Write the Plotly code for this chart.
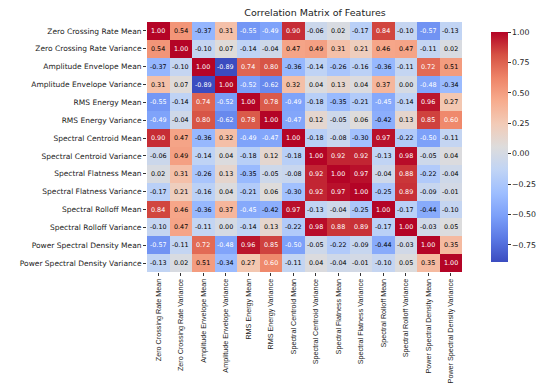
import plotly.graph_objects as go

features = [
    "Zero Crossing Rate Mean", "Zero Crossing Rate Variance",
    "Amplitude Envelope Mean", "Amplitude Envelope Variance",
    "RMS Energy Mean", "RMS Energy Variance",
    "Spectral Centroid Mean", "Spectral Centroid Variance",
    "Spectral Flatness Mean", "Spectral Flatness Variance",
    "Spectral Rolloff Mean", "Spectral Rolloff Variance",
    "Power Spectral Density Mean", "Power Spectral Density Variance",
]

corr = [
    [1.00, 0.54, -0.37, 0.31, -0.55, -0.49, 0.90, -0.06, 0.02, -0.17, 0.84, -0.10, -0.57, -0.13],
    [0.54, 1.00, -0.10, 0.07, -0.14, -0.04, 0.47, 0.49, 0.31, 0.21, 0.46, 0.47, -0.11, 0.02],
    [-0.37, -0.10, 1.00, -0.89, 0.74, 0.80, -0.36, -0.14, -0.26, -0.16, -0.36, -0.11, 0.72, 0.51],
    [0.31, 0.07, -0.89, 1.00, -0.52, -0.62, 0.32, 0.04, 0.13, 0.04, 0.37, 0.00, -0.48, -0.34],
    [-0.55, -0.14, 0.74, -0.52, 1.00, 0.78, -0.49, -0.18, -0.35, -0.21, -0.45, -0.14, 0.96, 0.27],
    [-0.49, -0.04, 0.80, -0.62, 0.78, 1.00, -0.47, 0.12, -0.05, 0.06, -0.42, 0.13, 0.85, 0.60],
    [0.90, 0.47, -0.36, 0.32, -0.49, -0.47, 1.00, -0.18, -0.08, -0.30, 0.97, -0.22, -0.50, -0.11],
    [-0.06, 0.49, -0.14, 0.04, -0.18, 0.12, -0.18, 1.00, 0.92, 0.92, -0.13, 0.98, -0.05, 0.04],
    [0.02, 0.31, -0.26, 0.13, -0.35, -0.05, -0.08, 0.92, 1.00, 0.97, -0.04, 0.88, -0.22, -0.04],
    [-0.17, 0.21, -0.16, 0.04, -0.21, 0.06, -0.30, 0.92, 0.97, 1.00, -0.25, 0.89, -0.09, -0.01],
    [0.84, 0.46, -0.36, 0.37, -0.45, -0.42, 0.97, -0.13, -0.04, -0.25, 1.00, -0.17, -0.44, -0.10],
    [-0.10, 0.47, -0.11, 0.00, -0.14, 0.13, -0.22, 0.98, 0.88, 0.89, -0.17, 1.00, -0.03, 0.05],
    [-0.57, -0.11, 0.72, -0.48, 0.96, 0.85, -0.50, -0.05, -0.22, -0.09, -0.44, -0.03, 1.00, 0.35],
    [-0.13, 0.02, 0.51, -0.34, 0.27, 0.60, -0.11, 0.04, -0.04, -0.01, -0.10, 0.05, 0.35, 1.00],
]

cbar_ticks = [-0.75, -0.50, -0.25, 0.00, 0.25, 0.50, 0.75, 1.00]

coolwarm = [
    (0.0, "#3b4cc0"), (0.1, "#5a78e4"), (0.2, "#7b9ff9"), (0.3, "#9ebeff"),
    (0.4, "#c0d4f5"), (0.5, "#dddcdc"), (0.6, "#f2cbb7"), (0.7, "#f7ac8e"),
    (0.8, "#ee8468"), (0.9, "#d65244"), (1.0, "#b40426"),
]

zmin = min(min(r) for r in corr)
zmax = max(max(r) for r in corr)


def hex2rgb(h):
    h = h.lstrip("#")
    return [int(h[i:i + 2], 16) for i in (0, 2, 4)]


def color_at(t):
    t = max(0.0, min(1.0, t))
    for (t0, c0), (t1, c1) in zip(coolwarm[:-1], coolwarm[1:]):
        if t0 <= t <= t1:
            f = (t - t0) / (t1 - t0) if t1 > t0 else 0
            a, b = hex2rgb(c0), hex2rgb(c1)
            return [a[i] + (b[i] - a[i]) * f for i in range(3)]
    return hex2rgb(coolwarm[-1][1])


def lum(rgb):
    out = []
    for c in rgb:
        c = c / 255
        out.append(c / 12.92 if c <= 0.03928 else ((c + 0.055) / 1.055) ** 2.4)
    return 0.2126 * out[0] + 0.7152 * out[1] + 0.0722 * out[2]


fig = go.Figure()
fig.add_trace(go.Heatmap(
    z=corr, x=features, y=features,
    zmin=zmin, zmax=zmax,
    colorscale=[[t, c] for t, c in coolwarm],
    xgap=0, ygap=0,
    colorbar=dict(
        x=1.06, xanchor="left", y=0.5, yanchor="middle", len=1.0, lenmode="fraction",
        thickness=17, outlinewidth=0, tickvals=cbar_ticks, tickformat=".2f",
        ticks="outside", ticklen=3, tickcolor="#333",
        tickfont=dict(family="DejaVu Sans", size=7.8, color="#222"),
    ),
    hoverinfo="skip",
))

for i, row in enumerate(corr):
    for j, v in enumerate(row):
        rgb = color_at((v - zmin) / (zmax - zmin))
        col = "black" if lum(rgb) > 0.408 else "white"
        fig.add_annotation(
            x=features[j], y=features[i], text=f"{v:.2f}", showarrow=False,
            font=dict(family="DejaVu Sans", size=6.4, color=col),
        )

fig.update_layout(
    width=550, height=387,
    margin=dict(l=133, r=69, t=14, b=105),
    paper_bgcolor="white", plot_bgcolor="white",
    title=dict(text="Correlation Matrix of Features", x=(133 + 481) / 2 / 550, xanchor="center",
               y=1.0, yanchor="top", pad=dict(t=1, b=0, l=0, r=0),
               font=dict(family="DejaVu Sans", size=9.5, color="#222")),
    xaxis=dict(tickangle=-90, ticks="outside", ticklen=3, tickcolor="#333", showgrid=False,
               tickfont=dict(family="Liberation Sans", size=7.2, color="#222"), zeroline=False),
    yaxis=dict(autorange="reversed", ticks="outside", ticklen=3, tickcolor="#333", showgrid=False,
               tickfont=dict(family="DejaVu Sans", size=7.5, color="#222"), zeroline=False),
)

fig.write_html("out.html")
